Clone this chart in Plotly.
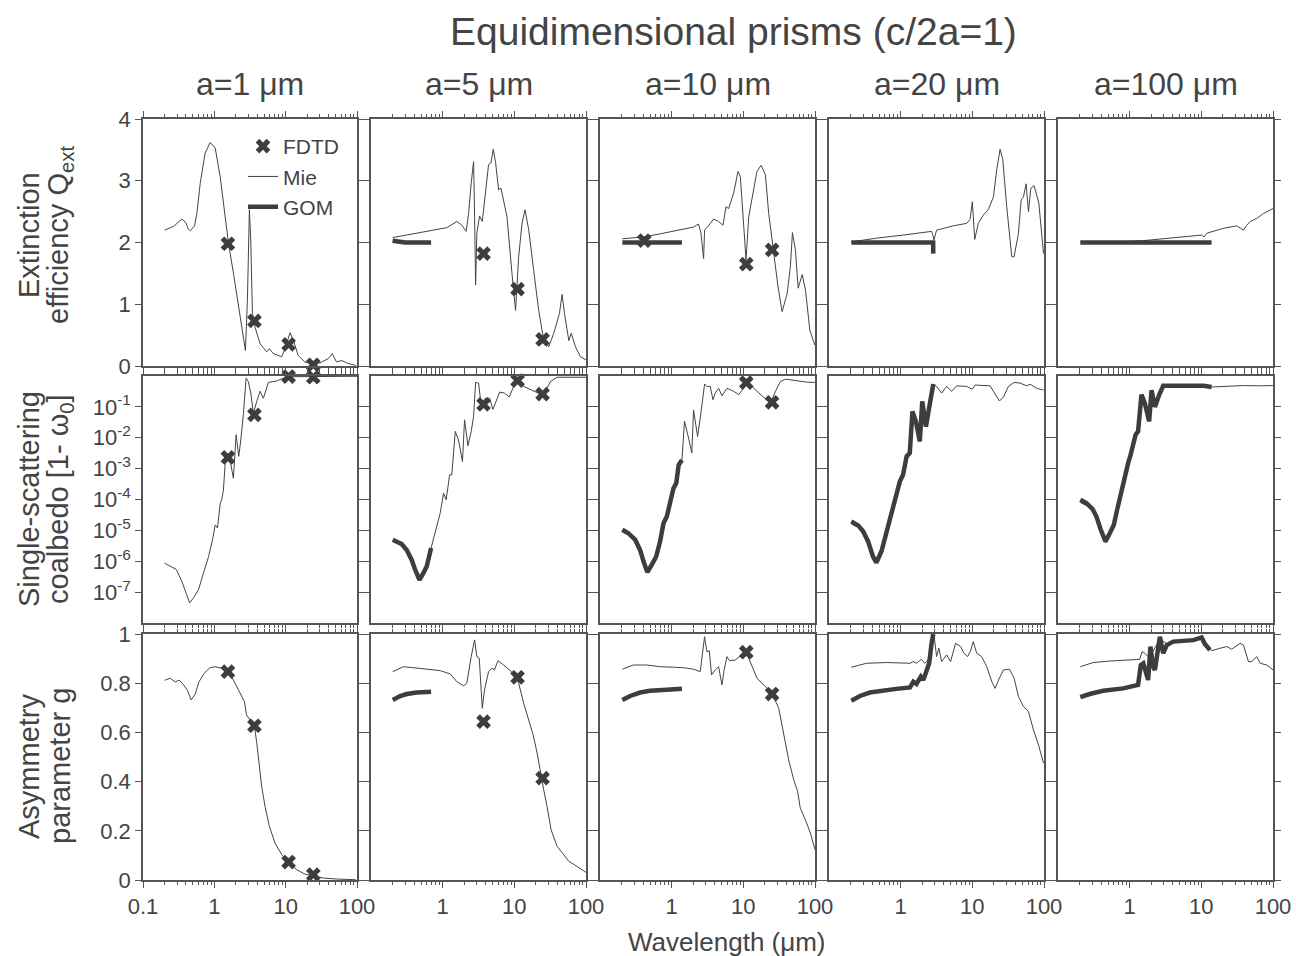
import plotly.graph_objects as go

# ---------------- text ----------------
TITLE = "Equidimensional prisms (c/2a=1)"
SIZES = ["a=1 μm", "a=5 μm", "a=10 μm", "a=20 μm", "a=100 μm"]
ROW_TITLES = [("Extinction", "efficiency Q<sub>ext</sub>"),
              ("Single-scattering", "coalbedo [1- ω<sub>0</sub>]"),
              ("Asymmetry", "parameter g")]
X_TITLE = "Wavelength (μm)"
X_TICKS_FIRST = [0.1, 1, 10, 100]
X_TICKTEXT_FIRST = ["0.1", "1", "10", "100"]
X_TICKS_OTHER = [1, 10, 100]
X_TICKTEXT_OTHER = ["1", "10", "100"]
Q_TICKS = [0, 1, 2, 3, 4]
G_TICKS = [0, 0.2, 0.4, 0.6, 0.8, 1]
G_TICKTEXT = ["0", "0.2", "0.4", "0.6", "0.8", "1"]
W_TICKS = [1e-7, 1e-6, 1e-5, 1e-4, 1e-3, 1e-2, 1e-1]
W_TICKTEXT = ["10<sup>-7</sup>", "10<sup>-6</sup>", "10<sup>-5</sup>", "10<sup>-4</sup>",
              "10<sup>-3</sup>", "10<sup>-2</sup>", "10<sup>-1</sup>"]

# ---------------- data: (wavelength µm, value) ----------------
# Row 1: extinction efficiency Q_ext
QEXT_MIE_A1 = [(0.201,2.20),(0.268,2.26),(0.351,2.38),(0.40,2.32),(0.43,2.22),(0.459,2.19),(0.528,2.27),
               (0.569,2.47),(0.634,2.96),(0.744,3.45),(0.874,3.62),(1.028,3.53),(1.207,3.07),(1.373,2.53),
               (1.578,1.99),(1.854,1.50),(2.178,0.96),(2.505,0.47),(2.73,0.25),(2.91,1.07),(3.10,2.53),
               (3.24,2.04),(3.42,0.85),(3.72,0.63),(4.38,0.36),(5.42,0.23),(5.91,0.28),(6.72,0.20),
               (8.79,0.15),(10.0,0.31),(11.5,0.54),(12.8,0.42),(15.0,0.17),(18.6,0.065),(23.1,0.04),
               (30.2,0.05),(39.5,0.12),(45.0,0.20),(51.6,0.065),(60.7,0.09),(75.2,0.04),(96.3,0.01)]
QEXT_GOM_A1 = []
QEXT_FDTD_A1 = [(1.55,1.98),(3.65,0.73),(11.0,0.35),(24.4,0.02)]

QEXT_MIE_A5 = [(0.201,2.08),(0.351,2.13),(0.60,2.18),(1.14,2.24),(1.58,2.34),(1.85,2.28),(2.13,2.18),
               (2.30,2.47),(2.50,2.96),(2.70,3.31),(2.79,2.42),(2.88,1.31),(3.0,2.15),(3.27,2.43),
               (3.57,2.34),(3.93,2.80),(4.37,3.26),(4.72,3.29),(5.09,3.51),(5.48,3.29),(6.04,2.85),
               (6.51,2.88),(7.89,2.42),(9.27,1.50),(10.4,0.90),(11.5,1.77),(12.8,2.31),(14.1,2.53),
               (15.9,2.20),(18.6,1.55),(21.9,0.90),(25.7,0.42),(30.2,0.31),(35.5,0.53),(42.6,0.85),
               (46.4,1.16),(50.1,0.85),(57.6,0.41),(62.2,0.53),(71.3,0.31),(83.8,0.15),(100,0.10)]
QEXT_GOM_A5 = [(0.20,2.03),(0.25,2.01),(0.3,2.0),(0.4,2.0),(0.5,2.0),(0.69,2.0)]
QEXT_FDTD_A5 = [(3.72,1.82),(11.1,1.245),(24.8,0.43)]

QEXT_MIE_A10 = [(0.205,2.06),(0.40,2.09),(0.69,2.14),(1.31,2.20),(2.02,2.25),(2.37,2.30),(2.56,2.16),
                (2.79,1.74),(2.88,2.20),(3.27,2.27),(3.85,2.38),(4.52,2.34),(5.2,2.28),(5.73,2.58),
                (6.24,2.55),(7.33,2.80),(8.42,3.15),(9.08,3.07),(10.1,2.26),(10.9,1.72),(11.9,2.42),
                (13.2,2.69),(15.5,3.15),(17.7,3.25),(20.3,3.10),(22.6,2.47),(26.6,1.82),(30.5,1.28),
                (34.8,0.88),(40.8,1.17),(45.4,1.61),(48.4,2.16),(53.3,1.88),(58.2,1.26),(66.2,1.48),
                (73.7,1.23),(84.7,0.58),(99.5,0.34)]
QEXT_GOM_A10 = [(0.205,2.0),(0.4,2.0),(0.8,2.0),(1.39,2.0)]
QEXT_FDTD_A10 = [(0.415,2.03),(11.0,1.65),(25.2,1.88)]

QEXT_MIE_A20 = [(0.205,2.01),(0.459,2.07),(1.08,2.12),(2.70,2.18),(2.85,2.10),(2.91,2.04),(3.17,2.20),
                (5.42,2.27),(8.33,2.31),(9.27,2.37),(10.0,2.66),(10.8,2.05),(12.1,2.31),(14.3,2.45),
                (16.7,2.53),(19.7,2.74),(21.9,3.18),(24.4,3.51),(26.6,3.34),(30.2,2.58),(35.5,1.77),
                (38.3,1.77),(44.0,2.15),(48.0,2.69),(51.7,2.74),(56.3,2.95),(60.7,2.50),(65.5,2.88),
                (72.8,2.92),(84.7,2.64),(98.4,1.82)]
QEXT_GOM_A20 = [(0.205,2.0),(0.5,2.0),(1.0,2.0),(2.0,2.0),(2.84,2.0),(2.85,1.82)]
QEXT_FDTD_A20 = []

QEXT_MIE_A100 = [(0.205,2.01),(0.528,2.00),(1.55,2.03),(4.52,2.08),(10.1,2.12),(10.9,2.09),(11.9,2.15),
                 (20.3,2.23),(31.2,2.27),(35.5,2.23),(38.7,2.20),(43.0,2.28),(48.0,2.34),(59.4,2.39),
                 (73.7,2.47),(100,2.55)]
QEXT_GOM_A100 = [(0.205,2.0),(1.0,2.0),(5.0,2.0),(13.9,2.0)]
QEXT_FDTD_A100 = []

# Row 2: single-scattering coalbedo 1 - omega0
COALB_MIE_A1 = [(0.201,8.7e-7),(0.293,5.4e-7),(0.351,2.2e-7),(0.45,4.5e-8),(0.511,6.5e-8),(0.60,1.2e-7),
                (0.705,4.2e-7),(0.829,1.4e-6),(0.943,5.0e-6),(1.028,1.5e-5),(1.107,1.2e-5),(1.21,7.6e-5),
                (1.27,9.8e-5),(1.34,2.0e-4),(1.42,1.5e-3),(1.50,3.2e-3),(1.66,1.9e-3),(1.85,4.9e-4),
                (2.02,1.26e-2),(2.20,2.5e-3),(2.35,8.5e-3),(2.56,6.2e-2),(2.79,0.85),(3.0,0.66),
                (3.24,0.28),(3.53,0.062),(3.93,0.15),(4.38,0.32),(4.87,0.19),(5.73,0.62),(7.48,0.69),
                (9.27,0.85),(11.5,0.95),(20,0.97),(50,0.98),(100,0.98)]
COALB_GOM_A1 = []
COALB_FDTD_A1 = [(1.55,2.3e-3),(3.65,0.055),(11.0,0.96),(24.4,0.91)]

COALB_MIE_A5 = [(0.201,4.4e-6),(0.268,3.2e-6),(0.315,2.1e-6),(0.37,1.0e-6),(0.412,5.0e-7),(0.474,2.4e-7),
                (0.54,4.0e-7),(0.60,6.6e-7),(0.69,2.7e-6),(0.785,9.3e-6),(0.923,3.6e-5),(1.03,1.6e-4),
                (1.12,9.8e-5),(1.25,6.3e-4),(1.34,6.3e-4),(1.50,1.6e-2),(1.66,8.5e-3),(1.89,1.7e-3),
                (2.02,3.8e-2),(2.25,5.5e-3),(2.50,1.6e-2),(2.70,4.9e-2),(2.88,0.62),(3.17,0.59),
                (3.42,0.13),(3.93,0.19),(4.52,0.19),(5.03,0.083),(5.42,0.13),(6.24,0.30),(7.25,0.28),
                (8.51,0.21),(9.79,0.46),(11.1,0.74),(13.5,0.46),(17.7,0.35),(23.1,0.26),(27.2,0.32),
                (31.9,0.66),(39.5,0.91),(67.6,0.89),(100,0.91)]
COALB_GOM_A5 = [(0.201,5.0e-6),(0.268,3.6e-6),(0.315,2.3e-6),(0.37,1.1e-6),(0.412,5.4e-7),(0.474,2.5e-7),
                (0.54,4.2e-7),(0.60,6.9e-7),(0.69,2.7e-6)]
COALB_FDTD_A5 = [(3.72,0.12),(11.1,0.71),(24.8,0.26)]

COALB_MIE_A10 = [(0.205,9.0e-6),(0.249,7.2e-6),(0.309,4.6e-6),(0.363,2.2e-6),(0.412,8.5e-7),(0.459,4.3e-7),
                 (0.528,7.6e-7),(0.607,1.4e-6),(0.69,4.4e-6),(0.769,1.7e-5),(0.856,2.8e-5),(0.952,8.7e-5),
                 (1.06,2.3e-4),(1.16,3.4e-4),(1.25,1.3e-3),(1.39,1.9e-3),(1.51,3.4e-2),(1.72,9.8e-3),
                 (1.91,3.2e-3),(2.02,7.9e-2),(2.30,1.1e-2),(2.56,6.3e-2),(2.88,0.55),(3.10,0.46),
                 (3.45,0.46),(3.77,0.17),(4.06,0.28),(4.52,0.40),(5.03,0.23),(5.91,0.40),(7.33,0.32),
                 (8.61,0.25),(10.1,0.40),(11.0,0.62),(13.2,0.46),(15.5,0.32),(19.2,0.21),(23.9,0.13),
                 (28.1,0.32),(32.9,0.66),(38.7,0.79),(50.5,0.71),(62.7,0.66),(77.8,0.63),(99.5,0.62)]
COALB_GOM_A10 = [(0.205,1.05e-5),(0.249,8.1e-6),(0.309,5.0e-6),(0.363,2.3e-6),(0.412,8.7e-7),(0.459,4.4e-7),
                 (0.528,7.8e-7),(0.607,1.4e-6),(0.69,4.4e-6),(0.769,1.7e-5),(0.856,2.8e-5),(0.952,8.7e-5),
                 (1.06,2.3e-4),(1.16,3.4e-4),(1.25,1.3e-3),(1.39,1.9e-3)]
COALB_FDTD_A10 = [(11.0,0.61),(25.2,0.14)]

COALB_MIE_A20 = [(0.205,1.6e-5),(0.255,1.25e-5),(0.299,8.5e-6),(0.351,4.2e-6),(0.412,1.4e-6),(0.459,9.1e-7),
                 (0.54,2.1e-6),(0.634,8.1e-6),(0.744,3.6e-5),(0.856,1.1e-4),(0.973,3.8e-4),(1.08,6.3e-4),
                 (1.21,2.5e-3),(1.34,3.2e-3),(1.46,7.1e-2),(1.63,3.4e-2),(1.85,7.6e-3),(2.0,0.15),
                 (2.25,2.3e-2),(2.56,0.13),(2.85,0.55),(3.17,0.46),(3.73,0.28),(4.38,0.46),(5.14,0.32),
                 (6.04,0.48),(8.33,0.46),(10.0,0.37),(10.9,0.51),(17.7,0.48),(20.7,0.28),(23.9,0.155),
                 (27.2,0.21),(31.9,0.46),(38.3,0.62),(46.4,0.59),(57.5,0.48),(64.0,0.54),(79.4,0.40),
                 (98.4,0.35)]
COALB_GOM_A20 = [(0.205,1.95e-5),(0.255,1.45e-5),(0.299,9.3e-6),(0.351,4.4e-6),(0.412,1.4e-6),(0.459,9.1e-7),
                 (0.54,2.1e-6),(0.634,8.1e-6),(0.744,3.6e-5),(0.856,1.1e-4),(0.973,3.8e-4),(1.08,6.3e-4),
                 (1.21,2.5e-3),(1.34,3.2e-3),(1.46,7.1e-2),(1.63,3.4e-2),(1.85,7.6e-3),(2.0,0.15),
                 (2.25,2.3e-2),(2.56,0.13),(2.85,0.55)]
COALB_FDTD_A20 = []

COALB_MIE_A100 = [(0.205,8.0e-5),(0.249,6.4e-5),(0.302,4.4e-5),(0.344,2.6e-5),(0.395,1.0e-5),(0.459,4.0e-6),
                  (0.528,8.1e-6),(0.60,1.5e-5),(0.669,4.7e-5),(0.769,2.0e-4),(0.856,4.9e-4),(0.952,1.5e-3),
                  (1.03,2.8e-3),(1.12,6.8e-3),(1.21,1.26e-2),(1.31,1.6e-2),(1.46,0.25),(1.63,0.13),
                  (1.87,3.4e-2),(2.02,0.35),(2.25,0.10),(2.59,0.25),(2.94,0.48),(4.52,0.48),(7.73,0.49),
                  (10.7,0.48),(13.9,0.44),(22.6,0.46),(38.7,0.49),(66.2,0.48),(100,0.49)]
COALB_GOM_A100 = [(0.205,9.8e-5),(0.249,7.6e-5),(0.302,5.0e-5),(0.344,2.8e-5),(0.395,1.05e-5),(0.459,4.4e-6),
                  (0.528,8.1e-6),(0.60,1.5e-5),(0.669,4.7e-5),(0.769,2.0e-4),(0.856,4.9e-4),(0.952,1.5e-3),
                  (1.03,2.8e-3),(1.12,6.8e-3),(1.21,1.26e-2),(1.31,1.6e-2),(1.46,0.25),(1.63,0.13),
                  (1.87,3.4e-2),(2.02,0.35),(2.25,0.10),(2.59,0.25),(2.94,0.48),(4.52,0.48),(7.73,0.49),
                  (10.7,0.48),(13.9,0.44)]
COALB_FDTD_A100 = []

# Row 3: asymmetry parameter g
ASYM_MIE_A1 = [(0.201,0.812),(0.241,0.820),(0.283,0.805),(0.322,0.813),(0.371,0.793),(0.421,0.770),
               (0.474,0.732),(0.54,0.756),(0.61,0.806),(0.72,0.840),(0.87,0.863),(1.03,0.867),(1.27,0.861),
               (1.55,0.847),(1.85,0.813),(2.25,0.766),(2.64,0.725),(2.83,0.671),(3.24,0.644),(3.65,0.624),
               (3.94,0.556),(4.28,0.475),(4.61,0.380),(5.14,0.299),(5.91,0.218),(7.1,0.150),(8.8,0.103),
               (11.0,0.073),(14.2,0.042),(18.6,0.024),(24.4,0.018),(33.8,0.008),(51.6,0.004),(96,0.001)]
ASYM_GOM_A1 = []
ASYM_FDTD_A1 = [(1.55,0.847),(3.65,0.627),(11.0,0.073),(24.4,0.022)]

ASYM_MIE_A5 = [(0.201,0.847),(0.283,0.867),(0.391,0.863),(0.60,0.858),(0.923,0.851),(1.27,0.838),
               (1.58,0.806),(1.96,0.789),(2.17,0.800),(2.5,0.908),(2.79,0.976),(3.0,0.908),(3.24,0.901),
               (3.57,0.698),(3.84,0.773),(4.37,0.847),(4.87,0.861),(5.28,0.854),(5.91,0.892),(7.1,0.874),
               (8.8,0.851),(10.3,0.827),(11.5,0.800),(13.5,0.719),(15.9,0.651),(18.3,0.590),(20.8,0.516),
               (23.1,0.434),(25.7,0.367),(28.6,0.299),(32.6,0.204),(39.5,0.137),(46.4,0.110),(57.6,0.076),
               (75.2,0.055),(100,0.031)]
ASYM_GOM_A5 = [(0.201,0.732),(0.255,0.748),(0.315,0.756),(0.435,0.762),(0.69,0.765)]
ASYM_FDTD_A5 = [(3.72,0.644),(11.1,0.824),(24.8,0.414)]

ASYM_MIE_A10 = [(0.205,0.857),(0.292,0.874),(0.45,0.874),(0.69,0.867),(1.06,0.865),(1.46,0.863),
                (2.02,0.857),(2.5,0.847),(2.88,0.989),(3.1,0.928),(3.35,0.932),(3.6,0.834),(4.06,0.854),
                (4.52,0.867),(5.03,0.793),(5.4,0.854),(5.91,0.908),(6.4,0.892),(7.7,0.894),(9.08,0.911),
                (11.0,0.926),(12.5,0.888),(15.5,0.820),(19.2,0.793),(25.2,0.759),(31.2,0.698),(36.6,0.590),
                (42.9,0.488),(50.5,0.407),(57.2,0.360),(62.3,0.292),(73.4,0.245),(86.2,0.191),(100,0.123)]
ASYM_GOM_A10 = [(0.205,0.732),(0.263,0.748),(0.363,0.762),(0.50,0.769),(0.856,0.773),(1.39,0.777)]
ASYM_FDTD_A10 = [(11.0,0.926),(25.2,0.756)]

ASYM_MIE_A20 = [(0.205,0.865),(0.333,0.881),(0.634,0.884),(1.35,0.881),(1.5,0.888),(1.66,0.881),
                (1.95,0.897),(2.17,0.881),(2.42,0.894),(2.7,0.976),(2.94,0.989),(3.17,0.908),(3.41,0.942),
                (3.73,0.888),(4.38,0.915),(4.97,0.888),(5.84,0.962),(6.86,0.949),(7.65,0.922),(8.6,0.908),
                (9.55,0.935),(10.3,0.969),(11.5,0.922),(13.5,0.908),(15.9,0.867),(18.7,0.806),(20.8,0.779),
                (23.2,0.813),(27.2,0.854),(33.0,0.857),(38.3,0.820),(44.0,0.746),(51.7,0.705),(60.7,0.685),
                (71.3,0.610),(83.8,0.549),(98.4,0.475)]
ASYM_GOM_A20 = [(0.205,0.729),(0.27,0.748),(0.371,0.762),(0.57,0.771),(0.87,0.777),(1.35,0.783),(1.5,0.806),
                (1.66,0.797),(1.91,0.827),(2.07,0.813),(2.3,0.847),(2.5,0.881),(2.7,0.962),(2.85,1.0)]
ASYM_FDTD_A20 = []

ASYM_MIE_A100 = [(0.205,0.867),(0.309,0.884),(0.528,0.890),(1.0,0.894),(1.38,0.897),(1.49,0.928),
                 (1.63,0.922),(1.81,0.908),(2.12,0.930),(2.64,0.980),(3.3,0.960),(5.58,0.970),(10.1,0.980),
                 (11.2,0.960),(13.9,0.932),(18.2,0.942),(22.6,0.949),(26.5,0.938),(34.7,0.962),(38.7,0.955),
                 (45.4,0.888),(50.5,0.888),(59.4,0.908),(66.2,0.881),(81.8,0.874),(100,0.854)]
ASYM_GOM_A100 = [(0.205,0.743),(0.277,0.756),(0.426,0.769),(0.81,0.779),(1.31,0.793),(1.43,0.874),
                 (1.55,0.881),(1.69,0.834),(1.81,0.813),(1.95,0.949),(2.12,0.867),(2.25,0.854),(2.42,0.922),
                 (2.64,0.989),(2.94,0.922),(3.3,0.955),(4.04,0.969),(5.58,0.972),(7.73,0.975),(10.1,0.986),
                 (11.2,0.959),(13.2,0.935)]
ASYM_FDTD_A100 = []

MIE = [[QEXT_MIE_A1, QEXT_MIE_A5, QEXT_MIE_A10, QEXT_MIE_A20, QEXT_MIE_A100],
       [COALB_MIE_A1, COALB_MIE_A5, COALB_MIE_A10, COALB_MIE_A20, COALB_MIE_A100],
       [ASYM_MIE_A1, ASYM_MIE_A5, ASYM_MIE_A10, ASYM_MIE_A20, ASYM_MIE_A100]]
GOM = [[QEXT_GOM_A1, QEXT_GOM_A5, QEXT_GOM_A10, QEXT_GOM_A20, QEXT_GOM_A100],
       [COALB_GOM_A1, COALB_GOM_A5, COALB_GOM_A10, COALB_GOM_A20, COALB_GOM_A100],
       [ASYM_GOM_A1, ASYM_GOM_A5, ASYM_GOM_A10, ASYM_GOM_A20, ASYM_GOM_A100]]
FDTD = [[QEXT_FDTD_A1, QEXT_FDTD_A5, QEXT_FDTD_A10, QEXT_FDTD_A20, QEXT_FDTD_A100],
        [COALB_FDTD_A1, COALB_FDTD_A5, COALB_FDTD_A10, COALB_FDTD_A20, COALB_FDTD_A100],
        [ASYM_FDTD_A1, ASYM_FDTD_A5, ASYM_FDTD_A10, ASYM_FDTD_A20, ASYM_FDTD_A100]]

# ---------------- layout geometry (pixels) ----------------
W, H = 1296, 956
COL_PX = [(143, 357), (371, 586), (600, 815), (829, 1044), (1058, 1273)]
ROW_PX = [(119, 366), (376, 623), (634, 880)]
ROW_TITLE_Y = [235, 499, 766]
ROW_TITLE_X = [29, 60]
INK = "#444444"
AXC = "#555555"
FONT = "Liberation Sans, Arial, Helvetica, sans-serif"
MINOR_X = [m * 10 ** e for e in (-1, 0, 1) for m in range(2, 10)]

fig = go.Figure()
layout = {}
shown = {"FDTD": False, "Mie": False, "GOM": False}

for r in range(3):
    for c in range(5):
        k = r * 5 + c + 1
        xa = "x" if k == 1 else f"x{k}"
        ya = "y" if k == 1 else f"y{k}"
        xname = "xaxis" if k == 1 else f"xaxis{k}"
        yname = "yaxis" if k == 1 else f"yaxis{k}"

        mie = MIE[r][c]
        fig.add_trace(go.Scatter(
            x=[p[0] for p in mie], y=[p[1] for p in mie], mode="lines",
            line=dict(color=INK, width=1), name="Mie", legendrank=2,
            showlegend=not shown["Mie"], xaxis=xa, yaxis=ya, hoverinfo="skip"))
        shown["Mie"] = True
        gom = GOM[r][c]
        if gom:
            fig.add_trace(go.Scatter(
                x=[p[0] for p in gom], y=[p[1] for p in gom], mode="lines",
                line=dict(color="#3d3d3d", width=4.5), name="GOM", legendrank=3,
                showlegend=not shown["GOM"], xaxis=xa, yaxis=ya, hoverinfo="skip"))
            shown["GOM"] = True
        fd = FDTD[r][c]
        if fd:
            fig.add_trace(go.Scatter(
                x=[p[0] for p in fd], y=[p[1] for p in fd], mode="markers",
                marker=dict(symbol="x", size=13, color="#3d3d3d", line=dict(width=0)),
                name="FDTD", legendrank=1, cliponaxis=False,
                showlegend=not shown["FDTD"], xaxis=xa, yaxis=ya, hoverinfo="skip"))
            shown["FDTD"] = True

        x0, x1 = COL_PX[c]
        y0, y1 = ROW_PX[r]
        common = dict(showgrid=False, zeroline=False, showline=True, linecolor=AXC, linewidth=1.5,
                      mirror="ticks", ticks="outside", ticklen=6, tickwidth=1.2, tickcolor=AXC,
                      automargin=False,
                      tickfont=dict(size=22, color=INK, family=FONT))
        layout[xname] = dict(
            common, type="log", range=[-1, 2], domain=[x0 / W, x1 / W], anchor=ya,
            tickvals=X_TICKS_FIRST if c == 0 else X_TICKS_OTHER,
            ticktext=X_TICKTEXT_FIRST if c == 0 else X_TICKTEXT_OTHER,
            showticklabels=(r == 2),
            minor=dict(tickvals=MINOR_X, ticks="outside", ticklen=3, tickcolor=AXC, tickwidth=1))
        if r == 0:
            yd = dict(range=[0, 4], tickvals=Q_TICKS)
        elif r == 1:
            yd = dict(type="log", range=[-8, 0], tickvals=W_TICKS, ticktext=W_TICKTEXT)
        else:
            yd = dict(range=[0, 1], tickvals=G_TICKS, ticktext=G_TICKTEXT)
        layout[yname] = dict(common, domain=[1 - y1 / H, 1 - y0 / H], anchor=xa,
                             showticklabels=(c == 0), **yd)

annotations = [dict(text=TITLE, x=733 / W, y=1 - 32 / H, xref="paper", yref="paper",
                    showarrow=False, xanchor="center", yanchor="middle",
                    font=dict(size=39, color=INK, family=FONT))]
for c, s in enumerate(SIZES):
    x0, x1 = COL_PX[c]
    annotations.append(dict(text=s, x=(x0 + x1) / 2 / W, y=1 - 84 / H, xref="paper", yref="paper",
                            showarrow=False, xanchor="center", yanchor="middle",
                            font=dict(size=32, color=INK, family=FONT)))
for r, lines in enumerate(ROW_TITLES):
    for j, t in enumerate(lines):
        annotations.append(dict(text=t, x=ROW_TITLE_X[j] / W, y=1 - ROW_TITLE_Y[r] / H,
                                xref="paper", yref="paper",
                                showarrow=False, xanchor="center", yanchor="middle", textangle=-90,
                                font=dict(size=29, color=INK, family=FONT)))
annotations.append(dict(text=X_TITLE, x=727 / W, y=1 - 942 / H, xref="paper", yref="paper",
                        showarrow=False, xanchor="center", yanchor="middle",
                        font=dict(size=26, color=INK, family=FONT)))

fig.update_layout(
    width=W, height=H, margin=dict(l=0, r=0, t=0, b=0, autoexpand=False),
    paper_bgcolor="white", plot_bgcolor="white",
    font=dict(family=FONT, color=INK),
    annotations=annotations,
    legend=dict(x=243 / W, y=1 - 126 / H, xanchor="left", yanchor="top",
                bgcolor="rgba(0,0,0,0)", font=dict(size=21, color=INK, family=FONT),
                itemwidth=30, tracegroupgap=0),
    **layout)

fig.write_html("out.html", config={"displayModeBar": False},
               post_script="document.body.style.margin='0px';")
